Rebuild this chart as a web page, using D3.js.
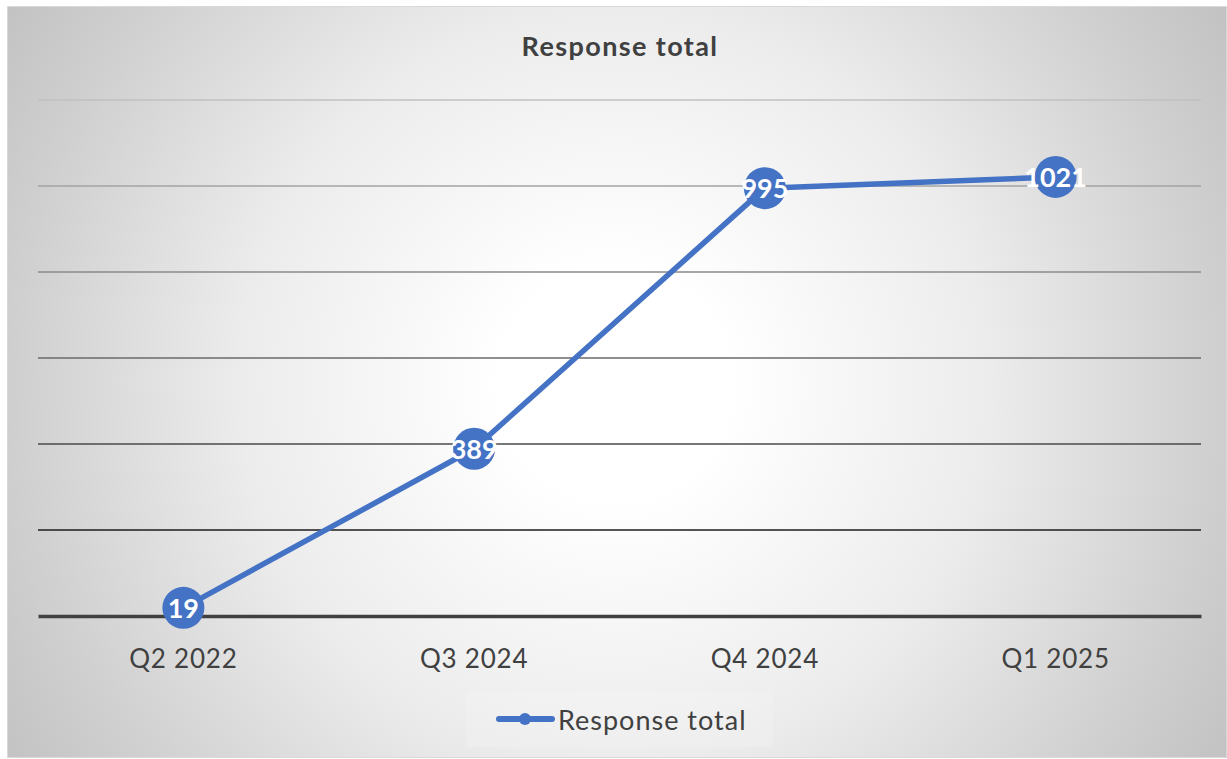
<!DOCTYPE html>
<html>
<head>
<meta charset="utf-8">
<script src="https://cdn.jsdelivr.net/npm/d3@7"></script>
<style>
  html, body { margin: 0; padding: 0; background: #ffffff; }
  svg { display: block; }
</style>
</head>
<body>
<svg id="chart" width="1227" height="759"></svg>
<script>
// Data
const categories = ["Q2 2022", "Q3 2024", "Q4 2024", "Q1 2025"];
const responseTotals = [19, 389, 995, 1021];
const yTicks = [0, 200, 400, 600, 800, 1000, 1200];
const gridColors = ["#404040", "#1c1c1c", "#4a4a4a", "#6a6a6a", "#8a8a8a", "#a3a3a3", "#c0c0c0"];
const seriesName = "Response total";
const chartTitle = "Response total";

const W = 1227, H = 759;
const svg = d3.select("#chart");
const font = "Lato, 'Open Sans', 'DejaVu Sans', sans-serif";
const blue = "#4472c4";
const textColor = "#404040";

// Background with radial shading
const defs = svg.append("defs");
const grad = defs.append("radialGradient")
  .attr("id", "bg")
  .attr("gradientUnits", "userSpaceOnUse")
  .attr("cx", 614).attr("cy", 385).attr("r", 720);
[[0, "#ffffff"], [0.16, "#ffffff"], [0.52, "#ececec"], [0.83, "#d0d0d0"], [1, "#c2c2c2"]]
  .forEach(([o, c]) => grad.append("stop").attr("offset", o).attr("stop-color", c));

svg.append("rect")
  .attr("x", 7.5).attr("y", 6.5)
  .attr("width", 1219).attr("height", 751)
  .attr("fill", "url(#bg)")
  .attr("stroke", "#d9d9d9").attr("stroke-width", 1);

// Plot area
const plot = { left: 38, right: 1201, top: 100, bottom: 616 };

const x = d3.scaleBand()
  .domain(categories)
  .range([plot.left, plot.right])
  .paddingInner(0).paddingOuter(0);

const y = d3.scaleLinear()
  .domain([0, 1200])
  .range([plot.bottom, plot.top]);

// Title
svg.append("text")
  .attr("x", 620).attr("y", 56)
  .attr("text-anchor", "middle")
  .attr("font-family", font)
  .attr("font-weight", "bold")
  .attr("font-size", 27)
  .attr("letter-spacing", 1.4)
  .attr("fill", textColor)
  .text(chartTitle);

// Gridlines
const grid = svg.append("g");
yTicks.forEach((t, i) => {
  if (t === 0) return;
  grid.append("line")
    .attr("x1", plot.left).attr("x2", plot.right)
    .attr("y1", y(t)).attr("y2", y(t))
    .attr("stroke", gridColors[i])
    .attr("stroke-width", 1.5);
});

// Category axis
const xAxis = svg.append("g")
  .attr("transform", `translate(0,${plot.bottom})`)
  .call(d3.axisBottom(x).tickSize(0));
xAxis.select(".domain")
  .attr("stroke", gridColors[0])
  .attr("stroke-width", 3.5);
xAxis.selectAll("text")
  .attr("y", 52)
  .attr("dy", 0)
  .attr("font-family", font)
  .attr("font-size", 26)
  .attr("letter-spacing", 0.8)
  .attr("fill", textColor);

// Series line
const cx = d => x(d.cat) + x.bandwidth() / 2;
const points = categories.map((c, i) => ({ cat: c, value: responseTotals[i] }));

svg.append("path")
  .datum(points)
  .attr("fill", "none")
  .attr("stroke", blue)
  .attr("stroke-width", 5.5)
  .attr("stroke-linejoin", "round")
  .attr("d", d3.line().x(cx).y(d => y(d.value)));

// Markers
svg.append("g").selectAll("circle")
  .data(points)
  .join("circle")
  .attr("cx", cx)
  .attr("cy", d => y(d.value))
  .attr("r", 21)
  .attr("fill", blue);

// Data labels
svg.append("g").selectAll("text")
  .data(points)
  .join("text")
  .attr("x", cx)
  .attr("y", d => y(d.value))
  .attr("dy", "0.38em")
  .attr("text-anchor", "middle")
  .attr("font-family", font)
  .attr("font-weight", "bold")
  .attr("font-size", 27)
  .attr("fill", "#ffffff")
  .text(d => d.value);

// Legend
const legend = svg.append("g");
legend.append("rect")
  .attr("x", 466).attr("y", 693)
  .attr("width", 307).attr("height", 54)
  .attr("fill", "#ffffff").attr("fill-opacity", 0.15);
legend.append("line")
  .attr("x1", 499).attr("x2", 552)
  .attr("y1", 719).attr("y2", 719)
  .attr("stroke", blue).attr("stroke-width", 6)
  .attr("stroke-linecap", "round");
legend.append("circle")
  .attr("cx", 525).attr("cy", 719).attr("r", 6)
  .attr("fill", blue);
legend.append("text")
  .attr("x", 558).attr("y", 730)
  .attr("font-family", font)
  .attr("font-size", 27)
  .attr("letter-spacing", 1)
  .attr("fill", textColor)
  .text(seriesName);
</script>
</body>
</html>
